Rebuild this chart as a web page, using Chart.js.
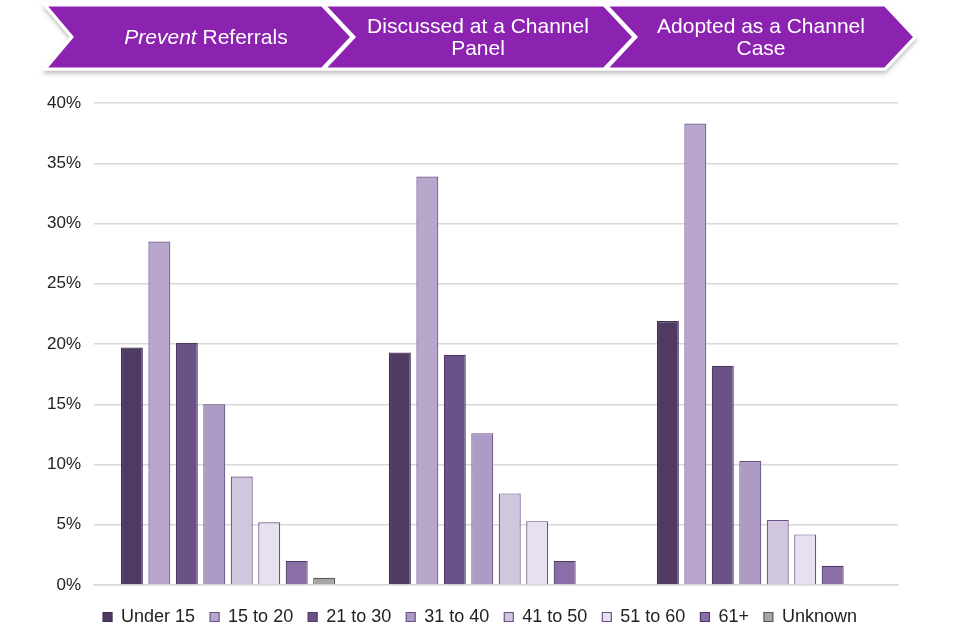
<!DOCTYPE html>
<html><head><meta charset="utf-8">
<script src="https://cdn.jsdelivr.net/npm/chart.js@4.4.1/dist/chart.umd.min.js"></script>
<style>
html,body{margin:0;padding:0;background:#fff;}
#wrap{position:relative;width:960px;height:640px;}
#banner{position:absolute;left:0;top:0;width:960px;height:80px;}
#c{position:absolute;left:0;top:0;}
</style></head>
<body>
<div id="wrap">
<canvas id="c" width="960" height="640"></canvas>
<svg id="banner" width="960" height="80" xmlns="http://www.w3.org/2000/svg">
  <defs>
    <filter id="sh" x="-5%" y="-20%" width="110%" height="160%">
      <feDropShadow dx="0" dy="3" stdDeviation="2" flood-color="#000" flood-opacity="0.25"/>
    </filter>
  </defs>
  <g filter="url(#sh)">
    <polygon points="45,5 322,5 352,37 322,69 45,69 72,37" fill="#8c22b0" stroke="#fff" stroke-width="3" stroke-linejoin="miter"/>
    <polygon points="324,5 604,5 634,37 604,69 324,69 354,37" fill="#8c22b0" stroke="#fff" stroke-width="3" stroke-linejoin="miter"/>
    <polygon points="606,5 885,5 915,37 885,69 606,69 636,37" fill="#8c22b0" stroke="#fff" stroke-width="3" stroke-linejoin="miter"/>
  </g>
  <g font-family="'Liberation Sans', Arial, sans-serif" font-size="21" fill="#fff" text-anchor="middle">
    <text x="206" y="44"><tspan font-style="italic">Prevent</tspan> Referrals</text>
    <text x="478" y="33">Discussed at a Channel</text>
    <text x="478" y="55">Panel</text>
    <text x="761" y="33">Adopted as a Channel</text>
    <text x="761" y="55">Case</text>
  </g>
</svg>
</div>
<script>
const stages = ["Prevent Referrals", "Discussed at a Channel Panel", "Adopted as a Channel Case"];
const ageGroups = ["Under 15", "15 to 20", "21 to 30", "31 to 40", "41 to 50", "51 to 60", "61+", "Unknown"];
const under15 = [19.7, 19.3, 21.9];
const age15to20 = [28.5, 33.9, 38.3];
const age21to30 = [20.1, 19.1, 18.2];
const age31to40 = [15.0, 12.6, 10.3];
const age41to50 = [9.0, 7.6, 5.4];
const age51to60 = [5.2, 5.3, 4.2];
const age61plus = [2.0, 2.0, 1.6];
const unknown = [0.6, 0, 0];
const yTicks = [0, 5, 10, 15, 20, 25, 30, 35, 40];

const seriesValues = [under15, age15to20, age21to30, age31to40, age41to50, age51to60, age61plus, unknown];
const fills = ["#4e3a62", "#b8a6cc", "#6a5187", "#ac9bc4", "#d0c6dd", "#e7e1ef", "#8a6ea8", "#a6a6a6"];
const borders = ["#3f2d52", "#6a5187", "#4e3a62", "#6a5187", "#6a5187", "#6a5187", "#4e3a62", "#595959"];

const datasets = ageGroups.map((name, i) => ({
  label: name,
  data: seriesValues[i],
  backgroundColor: fills[i],
  borderColor: borders[i],
  borderWidth: 1.2,
  categoryPercentage: 0.82,
  barPercentage: 0.8
}));

const legendShift = {
  id: 'legendShift',
  afterLayout(chart) {
    if (chart.legend) { chart.legend.left += 14; chart.legend.right += 14; }
  }
};

new Chart(document.getElementById('c'), {
  type: 'bar',
  data: { labels: stages, datasets },
  plugins: [legendShift],
  options: {
    responsive: false,
    animation: false,
    layout: { padding: { top: 103, left: 34, right: 62, bottom: 4 } },
    plugins: {
      legend: {
        position: 'bottom',
        labels: {
          boxWidth: 9, boxHeight: 9, padding: 15,
          color: '#222',
          font: { family: "'Liberation Sans', Arial, sans-serif", size: 18 }
        }
      },
      tooltip: { enabled: false }
    },
    scales: {
      x: {
        ticks: { display: false },
        grid: { display: false, drawTicks: false },
        border: { display: true, color: '#d9d9d9', width: 1.5 },
        afterFit: (axis) => { axis.height = 8; }
      },
      y: {
        min: 0, max: 40,
        afterBuildTicks: (axis) => { axis.ticks = yTicks.map(v => ({ value: v })); },
        ticks: {
          padding: 13,
          color: '#222',
          font: { family: "'Liberation Sans', Arial, sans-serif", size: 17 },
          callback: v => v + '%'
        },
        grid: { color: '#d9d9d9', lineWidth: 1.5, drawTicks: false },
        border: { display: false }
      }
    }
  }
});
</script>
</body></html>
